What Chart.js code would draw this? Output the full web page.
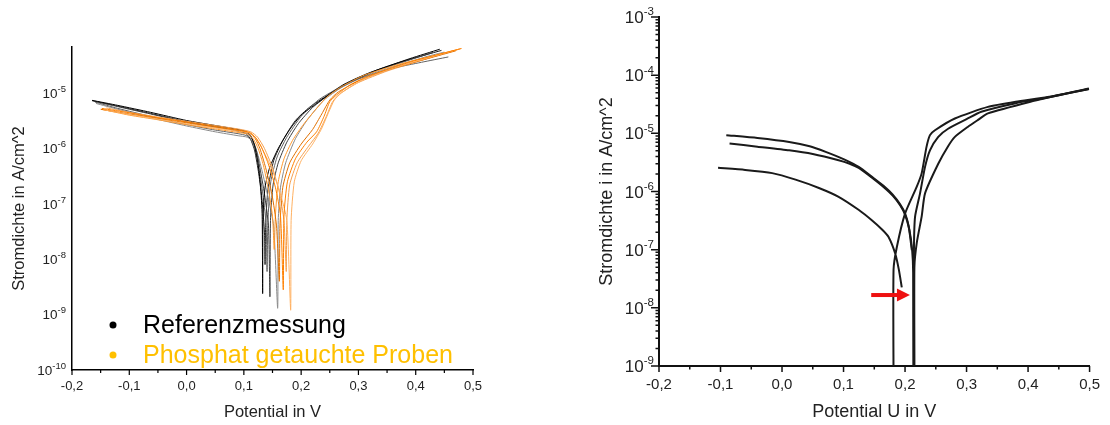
<!DOCTYPE html>
<html>
<head>
<meta charset="utf-8">
<script src="https://cdn.jsdelivr.net/npm/chart.js@4.4.1/dist/chart.umd.min.js"></script>
<style>
  body { margin:0; background:#fff; width:1110px; height:425px; overflow:hidden; position:relative; }
  canvas { position:absolute; top:0; }
  #left { left:0; }
  #right { left:555px; }
</style>
</head>
<body>
<canvas id="left" width="555" height="425"></canvas>
<canvas id="right" width="555" height="425"></canvas>
<script>
// potential axis (V)
const potTicks = [-0.2, -0.1, 0, 0.1, 0.2, 0.3, 0.4, 0.5];
const potLabels = ['-0,2', '-0,1', '0,0', '0,1', '0,2', '0,3', '0,4', '0,5'];

// current density decades (A/cm^2), labelled as 10 with the exponent raised
const leftDecades = [1e-10, 1e-9, 1e-8, 1e-7, 1e-6, 1e-5];
const leftExponents = ['-10', '-9', '-8', '-7', '-6', '-5'];
const rightDecades = [1e-9, 1e-8, 1e-7, 1e-6, 1e-5, 1e-4, 1e-3];
const rightExponents = ['-9', '-8', '-7', '-6', '-5', '-4', '-3'];

const legendLabels = ['Referenzmessung', 'Phosphat getauchte Proben'];
const legendColors = ['#000000', '#FFC000'];

// left: reference runs, [potential V, current density A/cm^2]
const ref1 = [[-0.165,7.4e-6],[-0.12,6.0e-6],[-0.063,4.5e-6],[0,3.2e-6],[0.05,2.6e-6],[0.09,2.2e-6],[0.105,2.0e-6],[0.112,1.7e-6],[0.118,1.2e-6],[0.124,6e-7],[0.129,2.2e-7],[0.132,6e-8],[0.1328,2.4e-9],[0.1335,6e-8],[0.137,2e-7],[0.145,4.5e-7],[0.16,1e-6],[0.18,2.2e-6],[0.2,4e-6],[0.227,6.5e-6],[0.256,1.06e-5],[0.285,1.6e-5],[0.332,2.6e-5],[0.39,4.2e-5],[0.442,6.2e-5]];
const ref2 = [[-0.162,7.2e-6],[-0.12,5.7e-6],[-0.063,4.2e-6],[0,3.0e-6],[0.05,2.45e-6],[0.09,2.1e-6],[0.106,1.9e-6],[0.114,1.5e-6],[0.121,1e-6],[0.128,4.5e-7],[0.136,1.5e-7],[0.143,4e-8],[0.1455,2.1e-9],[0.1465,5e-8],[0.151,2.2e-7],[0.16,5.5e-7],[0.175,1.3e-6],[0.195,2.8e-6],[0.22,5.5e-6],[0.25,9.5e-6],[0.28,1.5e-5],[0.33,2.5e-5],[0.38,3.7e-5],[0.43,5.4e-5]];
const ref3 = [[-0.16,6.9e-6],[-0.12,5.3e-6],[-0.063,3.8e-6],[0,2.7e-6],[0.05,2.15e-6],[0.09,1.85e-6],[0.105,1.7e-6],[0.113,1.4e-6],[0.12,9e-7],[0.127,4e-7],[0.134,1.3e-7],[0.139,4e-8],[0.1405,6e-9],[0.142,5e-8],[0.147,2.5e-7],[0.158,7e-7],[0.175,1.6e-6],[0.2,3.8e-6],[0.23,7.5e-6],[0.26,1.15e-5],[0.3,1.8e-5],[0.36,2.8e-5],[0.41,3.6e-5],[0.457,4.5e-5]];
const ref4 = [[-0.158,6.5e-6],[-0.12,5.1e-6],[-0.063,3.6e-6],[0,2.55e-6],[0.05,2.0e-6],[0.09,1.7e-6],[0.106,1.6e-6],[0.115,1.35e-6],[0.124,8e-7],[0.133,3.5e-7],[0.143,1.2e-7],[0.152,4e-8],[0.159,1.3e-9],[0.16,5e-8],[0.164,2e-7],[0.173,5.5e-7],[0.19,1.5e-6],[0.21,3.2e-6],[0.24,7.5e-6],[0.27,1.25e-5],[0.31,2e-5],[0.37,3.2e-5],[0.42,4.6e-5],[0.45,5.5e-5]];
const ref5 = [[-0.165,7.3e-6],[-0.12,5.8e-6],[-0.063,4.3e-6],[0,3.05e-6],[0.05,2.5e-6],[0.09,2.05e-6],[0.104,1.85e-6],[0.112,1.45e-6],[0.119,9e-7],[0.126,3.5e-7],[0.132,1.1e-7],[0.136,3e-8],[0.137,8e-9],[0.138,4e-8],[0.142,1.8e-7],[0.152,6e-7],[0.168,1.4e-6],[0.19,3.2e-6],[0.215,5.6e-6],[0.245,9e-6],[0.275,1.45e-5],[0.32,2.35e-5],[0.38,3.8e-5],[0.445,5.9e-5]];

// left: phosphate dipped samples
const phos1 = [[-0.148,5.3e-6],[-0.1,4.4e-6],[-0.05,3.6e-6],[0,3.0e-6],[0.05,2.5e-6],[0.09,2.15e-6],[0.11,1.95e-6],[0.12,1.6e-6],[0.13,1.1e-6],[0.142,5.5e-7],[0.155,2e-7],[0.164,6e-8],[0.1688,2.8e-9],[0.17,6e-8],[0.176,2.5e-7],[0.19,6.5e-7],[0.21,1.3e-6],[0.227,2e-6],[0.24,3.8e-6],[0.25,7e-6],[0.262,9.3e-6],[0.285,1.4e-5],[0.314,1.97e-5],[0.36,2.9e-5],[0.402,3.95e-5],[0.48,6.4e-5]];
const phos2 = [[-0.145,5.0e-6],[-0.1,4.1e-6],[-0.05,3.4e-6],[0,2.8e-6],[0.05,2.35e-6],[0.09,2.05e-6],[0.11,1.9e-6],[0.122,1.5e-6],[0.134,9e-7],[0.148,4.5e-7],[0.163,1.6e-7],[0.175,5e-8],[0.1817,1.2e-9],[0.1825,5e-8],[0.188,2.5e-7],[0.2,6e-7],[0.22,1.2e-6],[0.235,2.2e-6],[0.248,4.5e-6],[0.258,7.5e-6],[0.27,1e-5],[0.3,1.6e-5],[0.35,2.6e-5],[0.41,4e-5],[0.475,6.2e-5]];
const phos3 = [[-0.15,5.1e-6],[-0.1,4.2e-6],[-0.05,3.5e-6],[0,2.9e-6],[0.05,2.4e-6],[0.09,2.1e-6],[0.11,1.9e-6],[0.12,1.5e-6],[0.128,1e-6],[0.138,4.5e-7],[0.149,1.5e-7],[0.157,4e-8],[0.162,4e-9],[0.163,4e-8],[0.168,2e-7],[0.18,5.5e-7],[0.2,1.2e-6],[0.22,2.2e-6],[0.236,4.2e-6],[0.25,7.5e-6],[0.265,1.05e-5],[0.3,1.65e-5],[0.35,2.6e-5],[0.41,3.9e-5],[0.47,5.8e-5]];
const phos4 = [[-0.14,5.4e-6],[-0.1,4.5e-6],[-0.05,3.7e-6],[0,3.1e-6],[0.05,2.6e-6],[0.09,2.25e-6],[0.112,2.0e-6],[0.124,1.6e-6],[0.136,1e-6],[0.15,4.5e-7],[0.162,1.6e-7],[0.17,5e-8],[0.174,6e-9],[0.175,5e-8],[0.18,2.2e-7],[0.193,5.5e-7],[0.213,1.1e-6],[0.23,1.9e-6],[0.244,3.8e-6],[0.255,7e-6],[0.268,9.8e-6],[0.3,1.55e-5],[0.35,2.5e-5],[0.42,4.2e-5],[0.478,6.3e-5]];
const phos5 = [[-0.148,5.1e-6],[-0.1,4.0e-6],[-0.05,3.3e-6],[0,2.7e-6],[0.05,2.25e-6],[0.09,1.95e-6],[0.108,1.8e-6],[0.117,1.45e-6],[0.125,1e-6],[0.134,5e-7],[0.143,1.8e-7],[0.15,6e-8],[0.153,1.5e-8],[0.155,6e-8],[0.16,2.5e-7],[0.17,6.5e-7],[0.185,1.4e-6],[0.205,2.8e-6],[0.225,5e-6],[0.245,8.5e-6],[0.27,1.3e-5],[0.31,2.1e-5],[0.37,3.3e-5],[0.43,4.7e-5],[0.465,5.8e-5]];

// right: three single runs, a null current marks a break in the trace
const runA = [[-0.104,2.55e-6],[-0.06,2.35e-6],[-0.016,2.07e-6],[0.022,1.6e-6],[0.06,1.15e-6],[0.092,8.1e-7],[0.125,4.8e-7],[0.146,3.2e-7],[0.163,2.2e-7],[0.173,1.67e-7],[0.184,8.6e-8],[0.19,4.5e-8],[0.1947,2.25e-8],[0.19,null],
  [0.1813,5e-10],[0.1813,4.5e-8],[0.1866,1.1e-7],[0.2001,4.2e-7],[0.2189,1.2e-6],[0.227,2.05e-6],[0.235,5.9e-6],[0.2405,9.3e-6],[0.2486,1.13e-5],[0.281,1.8e-5],[0.3347,2.85e-5],[0.38,3.5e-5],[0.4317,4.2e-5],[0.499,5.9e-5]];
const runB = [[-0.0906,9.3e-6],[-0.04,8.3e-6],[0.0116,7.1e-6],[0.045,6e-6],[0.071,4.8e-6],[0.1,3.6e-6],[0.1247,2.65e-6],[0.1457,1.8e-6],[0.165,1.25e-6],[0.18,8.8e-7],[0.192,6e-7],[0.2,4.2e-7],[0.206,2.5e-7],[0.211,9.8e-8],[0.212,null],
  [0.2145,5e-10],[0.2145,1e-7],[0.2163,3.7e-7],[0.2244,9.3e-7],[0.2325,2.65e-6],[0.2405,5.1e-6],[0.254,8.7e-6],[0.27,1.2e-5],[0.3,1.75e-5],[0.324,2.35e-5],[0.38,3.3e-5],[0.43,4.1e-5],[0.499,5.8e-5]];
const runC = [[-0.0853,6.7e-6],[-0.04,5.9e-6],[0.0116,5.1e-6],[0.05,4.4e-6],[0.092,3.45e-6],[0.11,3.0e-6],[0.1247,2.55e-6],[0.1457,1.75e-6],[0.165,1.2e-6],[0.18,8.5e-7],[0.192,5.8e-7],[0.2,4e-7],[0.207,2.2e-7],[0.2115,1e-7],[0.2132,4e-8],[0.2136,5e-10],[0.2152,5e-10],[0.2152,5e-8],[0.219,1.3e-7],[0.227,3.7e-7],[0.2325,9.3e-7],[0.254,3e-6],[0.27,6e-6],[0.281,8.7e-6],[0.3024,1.3e-5],[0.3186,1.7e-5],[0.3347,2.2e-5],[0.404,3.5e-5],[0.45,4.5e-5],[0.499,5.8e-5]];

// red marker pointing at the corrosion potential
const arrowFrom = [0.145, 1.66e-8];
const arrowTo = [0.208, 1.66e-8];

const FONT = "'Liberation Sans', Arial, sans-serif";
const toXY = pts => pts.map(p => ({ x: p[0], y: p[1] }));

function line(pts, color, width) {
  return {
    data: toXY(pts), borderColor: color, borderWidth: width,
    pointRadius: 0, tension: 0.2, spanGaps: false, fill: false
  };
}

// ticks outside the axes: potential every 0.05 V, optional log minors on y
const tickMarks = {
  id: 'tickMarks',
  afterDraw(chart, args, o) {
    const { ctx, scales: { x, y } } = chart;
    ctx.save();
    ctx.strokeStyle = o.color;
    ctx.lineWidth = o.width;
    ctx.beginPath();
    for (let i = 0; i <= 14; i++) {
      const px = x.getPixelForValue(-0.2 + i * 0.05);
      ctx.moveTo(px, x.top);
      ctx.lineTo(px, x.top + (i % 2 ? o.minor : o.major));
    }
    if (o.yTicks) {
      rightDecades.forEach((d, k) => {
        for (let m = 1; m <= 9; m++) {
          if (k === rightDecades.length - 1 && m > 1) break;
          const py = y.getPixelForValue(m * d);
          ctx.moveTo(y.right, py);
          ctx.lineTo(y.right - (m === 1 ? o.major + 2 : o.minor), py);
        }
      });
    }
    ctx.stroke();
    ctx.restore();
  }
};

// decade labels on the log axis: "10" plus a raised exponent
const powerLabels = {
  id: 'powerLabels',
  afterDraw(chart, args, o) {
    const { ctx, scales: { y } } = chart;
    ctx.save();
    ctx.fillStyle = '#222';
    ctx.textBaseline = 'alphabetic';
    o.values.forEach((v, i) => {
      const py = y.getPixelForValue(v);
      const xr = y.right - o.pad;
      ctx.font = o.expSize + 'px ' + FONT;
      const we = ctx.measureText(o.exps[i]).width;
      ctx.fillText(o.exps[i], xr - we, py + o.size * 0.36 - o.size * 0.45);
      ctx.font = o.size + 'px ' + FONT;
      const wb = ctx.measureText('10').width;
      ctx.fillText('10', xr - we - wb, py + o.size * 0.36);
    });
    ctx.restore();
  }
};

const legendBox = {
  id: 'legendBox',
  afterDraw(chart, args, o) {
    if (!o.show) return;
    const { ctx, chartArea } = chart;
    ctx.save();
    ctx.font = '25px ' + FONT;
    ctx.textBaseline = 'alphabetic';
    legendLabels.forEach((t, i) => {
      const yy = chartArea.top + o.top + i * 30;
      ctx.fillStyle = legendColors[i];
      ctx.beginPath();
      ctx.arc(chartArea.left + 41, yy - 8, 3.5, 0, Math.PI * 2);
      ctx.fill();
      ctx.fillText(t, chartArea.left + 71, yy);
    });
    ctx.restore();
  }
};

const arrowMark = {
  id: 'arrowMark',
  afterDraw(chart, args, o) {
    if (!o.show) return;
    const { ctx, scales: { x, y } } = chart;
    const x0 = x.getPixelForValue(arrowFrom[0]);
    const x1 = x.getPixelForValue(arrowTo[0]);
    const yy = y.getPixelForValue(arrowFrom[1]);
    ctx.save();
    ctx.fillStyle = '#ee1111';
    ctx.fillRect(x0, yy - 2, x1 - x0 - 10, 4);
    ctx.beginPath();
    ctx.moveTo(x1, yy);
    ctx.lineTo(x1 - 13, yy - 6.5);
    ctx.lineTo(x1 - 13, yy + 6.5);
    ctx.closePath();
    ctx.fill();
    ctx.restore();
  }
};

function makeChart(id, cfg) {
  return new Chart(document.getElementById(id), {
    type: 'line',
    data: { datasets: cfg.datasets },
    options: {
      responsive: false,
      animation: false,
      layout: { padding: { left: 0, top: cfg.area.top, right: 555 - cfg.area.right, bottom: 0 } },
      plugins: {
        legend: { display: false },
        tooltip: { enabled: false },
        tickMarks: cfg.ticks,
        powerLabels: cfg.yLabels,
        legendBox: { show: !!cfg.legend, top: cfg.legend },
        arrowMark: { show: !!cfg.arrow }
      },
      scales: {
        x: {
          type: 'linear', min: -0.2, max: 0.5,
          afterFit: s => { s.height = 425 - cfg.area.bottom; },
          afterBuildTicks: s => { s.ticks = potTicks.map(v => ({ value: v })); },
          grid: { display: false, drawTicks: false },
          border: { display: true, color: cfg.axisColor, width: cfg.axisWidth },
          ticks: {
            autoSkip: false, maxRotation: 0, padding: cfg.xPad, color: '#222',
            font: { family: FONT, size: cfg.xTickSize },
            callback: (v, i) => potLabels[i]
          },
          title: {
            display: true, text: cfg.xTitle, color: '#222',
            font: { family: FONT, size: cfg.titleSize },
            padding: { top: 0, bottom: cfg.xTitlePad }
          }
        },
        y: {
          type: 'logarithmic', min: cfg.yMin, max: cfg.yMax,
          afterFit: s => { s.width = cfg.area.left; },
          grid: { display: false, drawTicks: false },
          border: { display: true, color: cfg.axisColor, width: cfg.axisWidth },
          ticks: { display: false },
          title: {
            display: true, text: cfg.yTitle, color: '#222',
            font: { family: FONT, size: cfg.titleSize },
            padding: { top: cfg.yTitlePad, bottom: 0 }
          }
        }
      }
    },
    plugins: [tickMarks, powerLabels, legendBox, arrowMark]
  });
}

const refColors = ['#000000', '#3c3c3c', '#626262', '#8a8a8a', '#1e1e1e'];
const phosColors = ['#ff8000', '#ffb060', '#e07000', '#f5a050', '#ff9a30'];

makeChart('left', {
  area: { left: 72, right: 473, top: 47, bottom: 370 },
  yMin: 1e-10, yMax: 6.8e-5,
  yLabels: { values: leftDecades, exps: leftExponents, size: 13.5, expSize: 9.5, pad: 6 },
  axisColor: '#000', axisWidth: 1.5,
  xTickSize: 13, titleSize: 16.5,
  xPad: 9, xTitlePad: 2.6, yTitlePad: 10,
  xTitle: 'Potential in V', yTitle: 'Stromdichte in A/cm^2',
  ticks: { color: '#000', width: 1.2, major: 5, minor: 3, yTicks: false },
  legend: 286,
  datasets: [
    line(phos1, phosColors[0], 1), line(phos2, phosColors[1], 1), line(phos3, phosColors[2], 1),
    line(phos4, phosColors[3], 1), line(phos5, phosColors[4], 1),
    line(ref1, refColors[0], 1), line(ref2, refColors[1], 1), line(ref3, refColors[2], 1),
    line(ref4, refColors[3], 1), line(ref5, refColors[4], 1)
  ]
});

makeChart('right', {
  area: { left: 104, right: 537, top: 17, bottom: 366 },
  yMin: 1e-9, yMax: 1e-3,
  yLabels: { values: rightDecades, exps: rightExponents, size: 17, expSize: 11.5, pad: 5 },
  axisColor: '#111', axisWidth: 2,
  xTickSize: 15, titleSize: 18,
  xPad: 10, xTitlePad: 2.2, yTitlePad: 41,
  xTitle: 'Potential U in V', yTitle: 'Stromdichte i in A/cm^2',
  ticks: { color: '#111', width: 1.5, major: 6, minor: 3.5, yTicks: true },
  arrow: true,
  datasets: [line(runA, '#1a1a1a', 2), line(runB, '#1a1a1a', 2), line(runC, '#1a1a1a', 2)]
});
</script>
</body>
</html>
